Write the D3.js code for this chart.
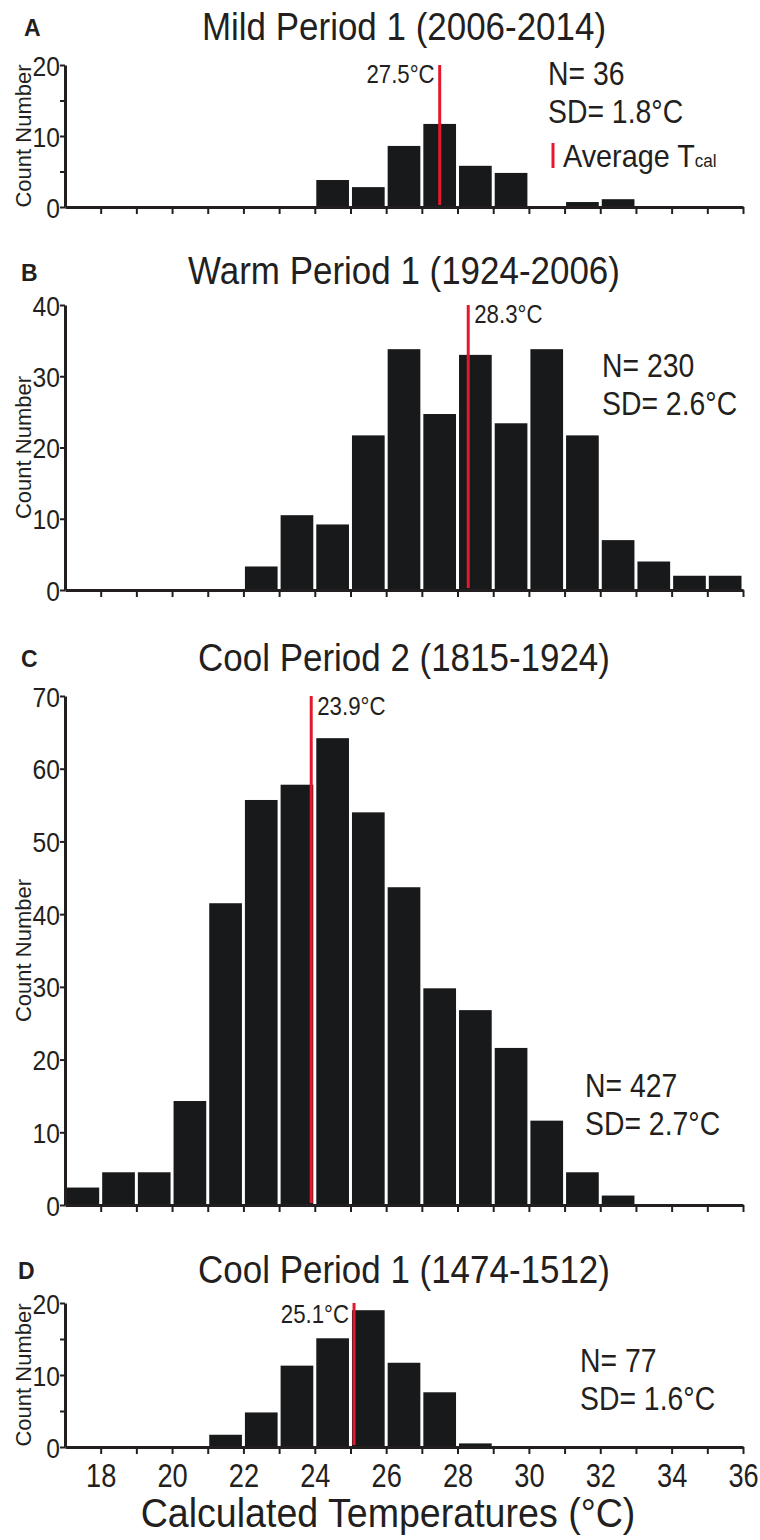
<!DOCTYPE html>
<html>
<head>
<meta charset="utf-8">
<script src="https://cdn.jsdelivr.net/npm/d3@7"></script>
<style>
  body { margin: 0; background: #fff; }
  text { font-family: "Liberation Sans", Arial, Helvetica, sans-serif; fill: #231f20; }
</style>
</head>
<body>
<svg id="fig"></svg>
<script>
// bin left edges (deg C), each bin is 1 degree wide
var binStarts = [17, 18, 19, 20, 21, 22, 23, 24, 25, 26, 27, 28, 29, 30, 31, 32, 33, 34, 35];

var countsA = [0, 0, 0, 0, 0, 0, 0, 3.8, 2.8, 8.6, 11.7, 5.8, 4.8, 0, 0.7, 1.1, 0, 0, 0];
var countsB = [0, 0, 0, 0, 0, 3.3, 10.5, 9.2, 21.7, 33.8, 24.7, 33, 23.4, 33.8, 21.7, 7, 4, 2, 2];
var countsC = [2.4, 4.5, 4.5, 14.3, 41.5, 55.7, 57.8, 64.2, 54, 43.7, 29.8, 26.8, 21.6, 11.6, 4.5, 1.3, 0, 0, 0];
var countsD = [0, 0, 0, 0, 1.7, 4.8, 11.3, 15.1, 19, 11.7, 7.6, 0.5, 0, 0, 0, 0, 0, 0, 0];

var titles = ["Mild Period 1 (2006-2014)", "Warm Period 1 (1924-2006)", "Cool Period 2 (1815-1924)", "Cool Period 1 (1474-1512)"];
var letters = ["A", "B", "C", "D"];
var means = [27.5, 28.3, 23.9, 25.1];
var nValues = [36, 230, 427, 77];
var sdValues = [1.8, 2.6, 2.7, 1.6];
var yMaxes = [20, 40, 70, 20];
var yMajorTicks = [[0, 10, 20], [0, 10, 20, 30, 40], [0, 10, 20, 30, 40, 50, 60, 70], [0, 10, 20]];
var yMinorTicks = [[5, 15], [], [], [5, 15]];
var xTicks = [18, 19, 20, 21, 22, 23, 24, 25, 26, 27, 28, 29, 30, 31, 32, 33, 34, 35, 36];
var xTickLabels = [18, 20, 22, 24, 26, 28, 30, 32, 34, 36];

var W = 760, H = 1540;
var left = 65, right = 743;
var red = "#e2192f", barColor = "#18191b", ink = "#231f20";

// vertical layout of each panel (pixels)
var panels = [
  {top: 65, bottom: 207, titleY: 40, letterX: 24, letterY: 36, meanSide: "left", meanY: 83, statX: 548, statY: 85},
  {top: 305, bottom: 590, titleY: 284, letterX: 21, letterY: 281, meanSide: "right", meanY: 323, statX: 602, statY: 377},
  {top: 696, bottom: 1205, titleY: 671, letterX: 21, letterY: 667, meanSide: "right", meanY: 715, statX: 585, statY: 1097},
  {top: 1303, bottom: 1447, titleY: 1283, letterX: 18, letterY: 1279, meanSide: "left", meanY: 1323, statX: 580, statY: 1372}
];
var allCounts = [countsA, countsB, countsC, countsD];

var svg = d3.select("#fig").attr("width", W).attr("height", H);

var x = d3.scaleLinear().domain([17, 36]).range([left, right]);

// the figure uses a slightly condensed face: squeeze text horizontally
function squeezed(parent, tx, ty, s, size) {
  return parent.append("text")
    .attr("transform", "translate(" + tx + "," + ty + ") scale(" + s + ",1)")
    .style("font-size", size + "px");
}

function drawPanel(i) {
  var p = panels[i];
  var counts = allCounts[i];
  var g = svg.append("g");
  var y = d3.scaleLinear().domain([0, yMaxes[i]]).range([p.bottom, p.top]);

  var data = binStarts.map(function (b, k) { return {x0: b, x1: b + 1, n: counts[k]}; });

  g.selectAll(".bar")
    .data(data.filter(function (d) { return d.n > 0; }))
    .enter().append("rect")
      .attr("class", "bar")
      .attr("fill", barColor)
      .attr("x", function (d) { return x(d.x0) + 1.5; })
      .attr("width", function (d) { return x(d.x1) - x(d.x0) - 3; })
      .attr("y", function (d) { return y(d.n); })
      .attr("height", function (d) { return p.bottom - y(d.n); });

  // mean line
  g.append("line")
    .attr("x1", x(means[i])).attr("x2", x(means[i]))
    .attr("y1", y(yMaxes[i])).attr("y2", p.bottom - 2)
    .attr("stroke", red).attr("stroke-width", 3);
  squeezed(g, x(means[i]) + (p.meanSide == "left" ? -5 : 6), p.meanY, 0.89, 25)
    .attr("text-anchor", p.meanSide == "left" ? "end" : "start")
    .text(means[i].toFixed(1) + "°C");

  // x axis
  var xAxis = g.append("g")
    .attr("transform", "translate(0," + p.bottom + ")")
    .call(d3.axisBottom(x).tickValues(xTicks).tickSize(7).tickSizeOuter(0)
      .tickFormat(function (d) { return (i == 3 && xTickLabels.indexOf(d) >= 0) ? d : ""; }));
  xAxis.select(".domain").attr("stroke", ink).attr("stroke-width", 3);
  xAxis.selectAll(".tick line").attr("stroke", ink).attr("stroke-width", 2);
  xAxis.selectAll("text")
    .style("font-size", "34px").attr("fill", ink)
    .attr("y", 0).attr("dy", null)
    .attr("transform", "translate(0,40) scale(0.8,1)");

  // y axis
  var yAxis = g.append("g")
    .attr("transform", "translate(" + left + ",0)")
    .call(d3.axisLeft(y).tickValues(yMajorTicks[i].concat(yMinorTicks[i])).tickSize(5).tickSizeOuter(0).tickPadding(2)
      .tickFormat(function (d) { return yMajorTicks[i].indexOf(d) >= 0 ? d : ""; }));
  yAxis.select(".domain").attr("stroke", ink).attr("stroke-width", 3);
  yAxis.selectAll(".tick line").attr("stroke", ink).attr("stroke-width", 2);
  yAxis.selectAll("text")
    .style("font-size", "28px").attr("fill", ink)
    .attr("x", 0).attr("dy", "0.36em")
    .attr("transform", "translate(-5,0) scale(0.88,1)");

  g.append("text")
    .attr("transform", "translate(31," + ((p.top + p.bottom) / 2) + ") rotate(-90)")
    .attr("text-anchor", "middle")
    .style("font-size", "22px")
    .text("Count Number");

  // titles
  squeezed(g, (left + right) / 2, p.titleY, 0.92, 38)
    .attr("text-anchor", "middle")
    .text(titles[i]);
  g.append("text")
    .attr("x", p.letterX).attr("y", p.letterY)
    .style("font-size", "23px").style("font-weight", "bold")
    .text(letters[i]);

  // N and SD
  squeezed(g, p.statX, p.statY, 0.86, 33).text("N= " + nValues[i]);
  squeezed(g, p.statX, p.statY + 38, 0.86, 33).text("SD= " + sdValues[i].toFixed(1) + "°C");

  if (i == 0) {
    // legend for the mean line
    g.append("line")
      .attr("x1", 553).attr("x2", 553)
      .attr("y1", p.statY + 58).attr("y2", p.statY + 83)
      .attr("stroke", red).attr("stroke-width", 3);
    var leg = squeezed(g, 563, p.statY + 82, 0.9, 32);
    leg.append("tspan").text("Average T");
    leg.append("tspan").style("font-size", "19px").text("cal");
  }
}

for (var i = 0; i < 4; i++) drawPanel(i);

squeezed(svg, 388, 1527, 0.94, 40)
  .attr("text-anchor", "middle")
  .text("Calculated Temperatures (°C)");
</script>
</body>
</html>
